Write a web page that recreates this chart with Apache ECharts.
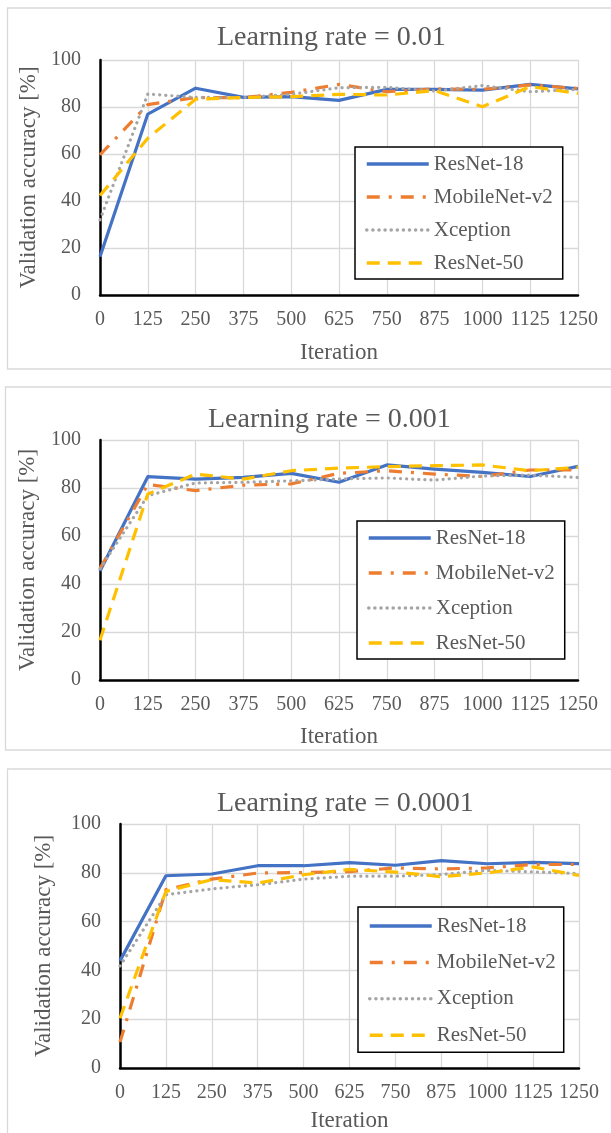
<!DOCTYPE html>
<html>
<head>
<meta charset="utf-8">
<script src="https://cdn.jsdelivr.net/npm/echarts@6/dist/echarts.min.js"></script>
<style>
html,body{margin:0;padding:0;background:#fff;}
#chart{width:611px;height:1133px;}
</style>
</head>
<body>
<div id="chart"></div>
<script>
const iterations = ['0','125','250','375','500','625','750','875','1000','1125','1250'];
const yTicks = [0, 20, 40, 60, 80, 100];
const seriesNames = ['ResNet-18', 'MobileNet-v2', 'Xception', 'ResNet-50'];
const titles = ['Learning rate = 0.01', 'Learning rate = 0.001', 'Learning rate = 0.0001'];

// Learning rate = 0.01
const resnet18_lr1 = [16.3, 77.0, 88.0, 84.1, 84.4, 82.8, 87.5, 87.5, 87.2, 89.6, 87.7];
const mobilenet_lr1 = [59.6, 81.0, 84.0, 84.0, 86.2, 89.6, 86.5, 87.7, 87.5, 89.4, 87.9];
const xception_lr1 = [32.0, 85.5, 84.1, 84.0, 85.4, 88.2, 88.4, 86.8, 89.1, 86.5, 87.5];
const resnet50_lr1 = [42.3, 66.7, 83.3, 84.0, 84.4, 85.4, 85.1, 87.0, 80.1, 88.7, 85.8];

// Learning rate = 0.001
const resnet18_lr2 = [45.4, 84.7, 83.7, 84.4, 86.1, 82.4, 89.6, 87.9, 86.5, 84.8, 89.0];
const mobilenet_lr2 = [46.4, 81.5, 78.9, 81.2, 81.7, 86.1, 87.2, 85.8, 84.8, 87.5, 87.5];
const xception_lr2 = [46.4, 76.8, 82.1, 82.4, 83.0, 83.8, 84.2, 83.3, 85.0, 85.4, 84.4];
const resnet50_lr2 = [16.6, 77.5, 85.8, 83.7, 87.2, 88.3, 88.9, 89.3, 89.6, 87.2, 88.6];

// Learning rate = 0.0001
const resnet18_lr3 = [43.9, 78.8, 79.5, 82.9, 82.9, 84.2, 83.1, 85.0, 83.7, 84.3, 83.8];
const mobilenet_lr3 = [10.6, 73.1, 77.4, 79.9, 80.1, 80.5, 82.0, 81.6, 82.0, 83.4, 83.4];
const xception_lr3 = [41.8, 71.0, 73.4, 75.1, 77.4, 78.6, 78.6, 79.3, 81.0, 80.4, 79.7];
const resnet50_lr3 = [20.4, 72.4, 77.2, 75.8, 79.2, 81.4, 80.3, 78.4, 80.0, 82.4, 78.9];

const panelData = [
  [resnet18_lr1, mobilenet_lr1, xception_lr1, resnet50_lr1],
  [resnet18_lr2, mobilenet_lr2, xception_lr2, resnet50_lr2],
  [resnet18_lr3, mobilenet_lr3, xception_lr3, resnet50_lr3]
];

const FONT = '"Liberation Serif", "Times New Roman", serif';
const TXT = '#595959';
const GRIDC = '#d9d9d9';
const colors = ['#4472C4', '#ED7D31', '#A5A5A5', '#FFC000'];
const lineTypes = ['solid', [13, 9, 3, 9], [0.1, 6], [13, 8]];
const lineCaps = ['butt', 'butt', 'round', 'butt'];

// layout per panel
const layout = [
  { grid: {left: 100, right: 33, top: 60, height: 235}, title: {left: 217, top: 24},
    yGap: 59, xGap: 46, legend: {left: 355, top: 147, pad: [6, 10, 5, 10], gap: 11} },
  { grid: {left: 100, right: 33, top: 440, height: 240}, title: {left: 208, top: 406},
    yGap: 61, xGap: 45, legend: {left: 357, top: 521, pad: [6, 10, 5, 10], gap: 13} },
  { grid: {left: 120, right: 32, top: 824, height: 245}, title: {left: 217, top: 790},
    yGap: 65, xGap: 41, legend: {left: 358, top: 907, pad: [8, 8, 6, 10], gap: 14.4} }
];

const option = {
  backgroundColor: '#ffffff',
  animation: false,
  title: [], grid: [], xAxis: [], yAxis: [], legend: [], series: [],
  graphic: [
    {type: 'rect', shape: {x: 7.5, y: 8, width: 610, height: 361}, style: {fill: 'none', stroke: GRIDC, lineWidth: 1.3}, silent: true},
    {type: 'rect', shape: {x: 5.5, y: 387, width: 612, height: 363}, style: {fill: 'none', stroke: GRIDC, lineWidth: 1.3}, silent: true},
    {type: 'rect', shape: {x: 7.5, y: 769, width: 610, height: 380}, style: {fill: 'none', stroke: GRIDC, lineWidth: 1.3}, silent: true}
  ]
};

layout.forEach((L, i) => {
  option.title.push({
    text: titles[i], left: L.title.left, top: L.title.top, padding: 0,
    textStyle: {fontFamily: FONT, fontSize: 28, fontWeight: 'normal', color: TXT}
  });
  option.grid.push(Object.assign({containLabel: false}, L.grid));
  option.xAxis.push({
    type: 'category', gridIndex: i, data: iterations, boundaryGap: false,
    name: 'Iteration', nameLocation: 'middle', nameGap: L.xGap,
    nameTextStyle: {fontFamily: FONT, fontSize: 23, color: TXT},
    axisLine: {show: true, lineStyle: {color: '#000', width: 2.5}},
    axisTick: {show: false},
    axisLabel: {fontFamily: FONT, fontSize: 20, color: TXT, margin: 15, interval: 0},
    splitLine: {show: true, lineStyle: {color: GRIDC, width: 1.3}}
  });
  option.yAxis.push({
    type: 'value', gridIndex: i, min: yTicks[0], max: yTicks[yTicks.length - 1], interval: 20,
    name: 'Validation accuracy [%]', nameLocation: 'middle', nameGap: L.yGap, nameRotate: 90,
    nameTextStyle: {fontFamily: FONT, fontSize: 23, color: TXT},
    axisLine: {show: true, lineStyle: {color: '#000', width: 2.5}},
    axisTick: {show: false},
    axisLabel: {fontFamily: FONT, fontSize: 20, color: TXT, margin: 19},
    splitLine: {show: true, lineStyle: {color: GRIDC, width: 1.3}}
  });
  option.legend.push({
    orient: 'vertical', left: L.legend.left, top: L.legend.top,
    padding: L.legend.pad, itemGap: L.legend.gap,
    itemWidth: 62, itemHeight: 14,
    backgroundColor: '#fff', borderColor: '#000', borderWidth: 1.5,
    selectedMode: false,
    itemStyle: {color: 'rgba(0,0,0,0)', borderColor: 'rgba(0,0,0,0)', borderWidth: 0},
    lineStyle: {width: 3.5},
    data: seriesNames,
    textStyle: {fontFamily: FONT, fontSize: 21, color: TXT, lineHeight: 22}
  });
  panelData[i].forEach((vals, k) => {
    option.series.push({
      name: seriesNames[k], type: 'line', xAxisIndex: i, yAxisIndex: i,
      data: vals, symbol: 'none', smooth: false, z: 2 + k,
      color: colors[k],
      lineStyle: {color: colors[k], width: 3.2, type: lineTypes[k], cap: lineCaps[k], join: 'round'}
    });
  });
});

const chart = echarts.init(document.getElementById('chart'), null, {renderer: 'canvas'});
chart.setOption(option);
</script>
</body>
</html>
